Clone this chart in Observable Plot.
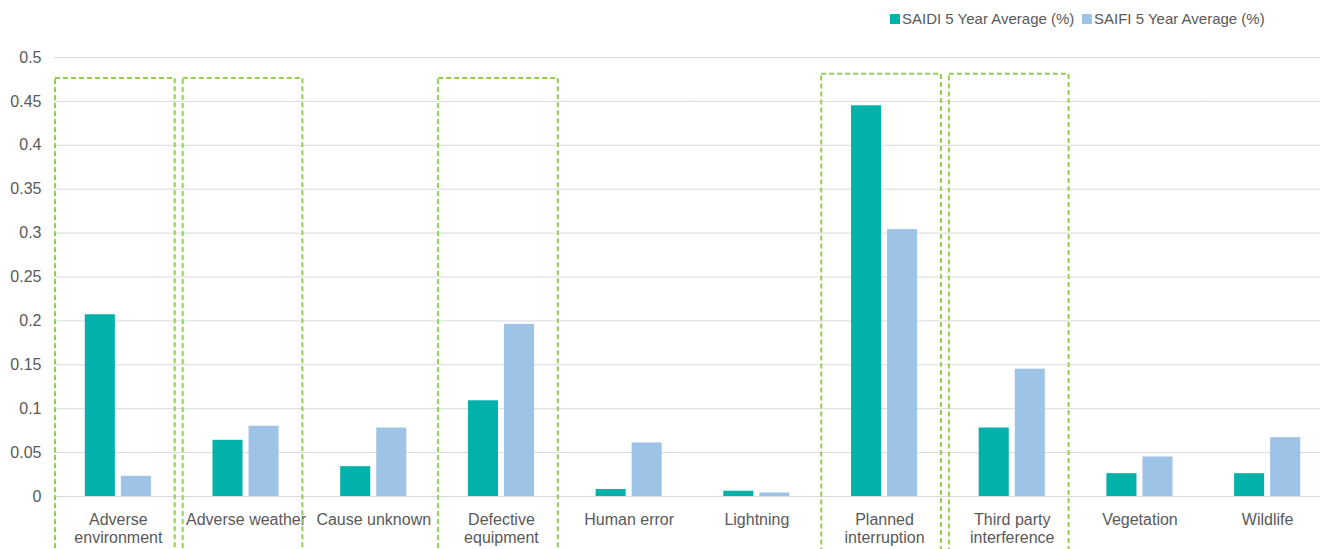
<!DOCTYPE html>
<html>
<head>
<meta charset="utf-8">
<script src="https://cdn.jsdelivr.net/npm/d3@7"></script>
<script src="https://cdn.jsdelivr.net/npm/@observablehq/plot@0.6"></script>
<style>
  html, body { margin: 0; padding: 0; overflow: hidden; background: #fff; }
  body { width: 1320px; height: 549px; font-family: "Liberation Sans", Arial, sans-serif; }
  #legend { position: relative; height: 36px; }
  #chart svg { max-width: none !important; display: block; }
  .item { position: absolute; top: 10px; display: flex; align-items: center; font-size: 15px; color: #595959; white-space: nowrap; }
  .sw { width: 10px; height: 10px; margin-right: 2px; }
</style>
</head>
<body>
<div id="legend"></div>
<div id="chart"></div>
<script>
const categories = ["Adverse environment", "Adverse weather", "Cause unknown", "Defective equipment", "Human error", "Lightning", "Planned interruption", "Third party interference", "Vegetation", "Wildlife"];
const categoryLabels = ["Adverse\nenvironment", "Adverse weather", "Cause unknown", "Defective\nequipment", "Human error", "Lightning", "Planned\ninterruption", "Third party\ninterference", "Vegetation", "Wildlife"];
const series = ["SAIDI 5 Year Average (%)", "SAIFI 5 Year Average (%)"];
const saidi = [0.207, 0.064, 0.034, 0.109, 0.008, 0.006, 0.445, 0.078, 0.026, 0.026];
const saifi = [0.023, 0.080, 0.078, 0.196, 0.061, 0.004, 0.304, 0.145, 0.045, 0.067];
const highlightedA = ["Adverse environment", "Adverse weather", "Defective equipment"];
const highlightedB = ["Planned interruption", "Third party interference"];
const yTicks = [0, 0.05, 0.1, 0.15, 0.2, 0.25, 0.3, 0.35, 0.4, 0.45, 0.5];
const colors = ["#00B2A9", "#9DC3E6"];

const rows = [];
categories.forEach((c, i) => {
  rows.push({cat: c, series: series[0], value: saidi[i]});
  rows.push({cat: c, series: series[1], value: saifi[i]});
});
const labelOf = new Map(categories.map((c, i) => [c, categoryLabels[i]]));

// legend
const legend = document.getElementById("legend");
const legendLeft = [890, 1082];
series.forEach((s, i) => {
  const it = document.createElement("div");
  it.className = "item";
  it.style.left = legendLeft[i] + "px";
  it.innerHTML = `<span class="sw" style="background:${colors[i]}"></span><span>${s}</span>`;
  legend.appendChild(it);
});

const boxStyle = {fill: "none", stroke: "#92D050", strokeWidth: 2, strokeDasharray: "5,3", insetLeft: 1, insetRight: 7};

const chart = Plot.plot({
  width: 1332,
  height: 513,
  marginLeft: 54,
  marginRight: 1,
  marginTop: 21,
  marginBottom: 53,
  style: {fontFamily: "Liberation Sans, Arial, sans-serif", background: "transparent", maxWidth: "none"},
  fx: {domain: categories, padding: 0, round: false, axis: null, label: null},
  x: {domain: series, paddingInner: 1/6, paddingOuter: 0.854, round: false, axis: null},
  y: {domain: [0, 0.5], axis: null},
  color: {domain: series, range: colors},
  marks: [
    Plot.gridY(yTicks, {stroke: "#d9d9d9", strokeOpacity: 1, strokeWidth: 1}),
    Plot.axisY(yTicks, {tickSize: 0, tickPadding: 13, tickFormat: d => String(+d.toFixed(2)), fontSize: 16, fill: "#595959", label: null}),
    Plot.axisFx({anchor: "bottom", tickSize: 0, tickPadding: 15, tickFormat: d => labelOf.get(d), fontSize: 16, fill: "#595959", label: null, lineHeight: 1.15}),
    Plot.barY(rows, {fx: "cat", x: "series", y: "value", fill: "series", inset: 0}),
    Plot.barY(highlightedA, {fx: d => d, y1: -0.12, y2: 0.476, ...boxStyle}),
    Plot.barY(highlightedB, {fx: d => d, y1: -0.12, y2: 0.481, ...boxStyle})
  ]
});
document.getElementById("chart").appendChild(chart);
</script>
</body>
</html>
